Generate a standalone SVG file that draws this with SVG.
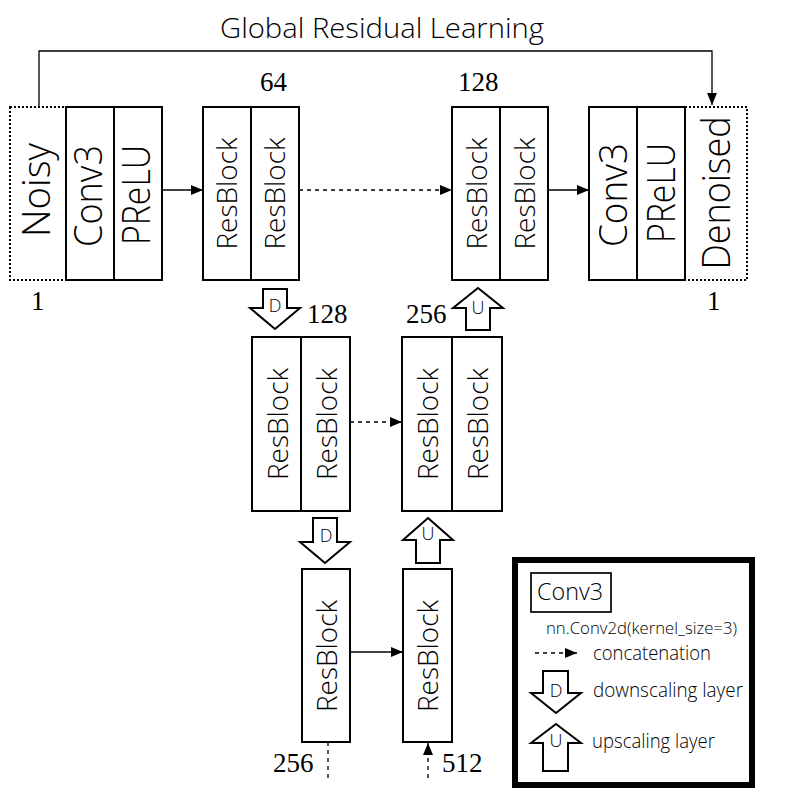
<svg xmlns="http://www.w3.org/2000/svg" width="801" height="797" viewBox="0 0 801 797">
<defs>
<style>
.box{fill:#fff;stroke:#000;stroke-width:2}
.dot{fill:#fff;stroke:#000;stroke-width:2;stroke-dasharray:2 2}
.vt{font-family:"Open Sans","Noto Sans","Liberation Sans",sans-serif;font-weight:350;font-size:38px;text-anchor:middle;fill:#000}
.rb{font-family:"Open Sans","Noto Sans","Liberation Sans",sans-serif;font-weight:350;font-size:28px;text-anchor:middle;fill:#000}
.num{font-family:"Liberation Serif","Times New Roman",serif;font-size:27px;fill:#000}
.ln{fill:none;stroke:#000;stroke-width:1.3}
.dash{fill:none;stroke:#000;stroke-width:1.3;stroke-dasharray:4 4}
.arr{fill:#fff;stroke:#000;stroke-width:2;stroke-linejoin:miter}
.lt{font-family:"Open Sans","Noto Sans","Liberation Sans",sans-serif;font-weight:350;font-size:18px;text-anchor:middle;fill:#000}
.lg{font-family:"Open Sans","Noto Sans","Liberation Sans",sans-serif;font-weight:350;font-size:20px;fill:#000}
.title{font-family:"Open Sans","Noto Sans","Liberation Sans",sans-serif;font-weight:350;font-size:28px;fill:#000}
</style>
<marker id="ah" markerUnits="userSpaceOnUse" markerWidth="12" markerHeight="10" refX="12" refY="5" orient="auto">
<path d="M0,0 L12,5 L0,10 z" fill="#000"/>
</marker>
</defs>
<rect x="0" y="0" width="801" height="797" fill="#fff"/>

<text class="title" x="220" y="38" textLength="324" lengthAdjust="spacingAndGlyphs">Global Residual Learning</text>

<g id="connectors">
<polyline class="ln" points="39,107 39,51 712,51 712,105" marker-end="url(#ah)"/>
<line class="ln" x1="162" y1="190" x2="203" y2="190" marker-end="url(#ah)"/>
<line class="dash" x1="299" y1="190" x2="452" y2="190" marker-end="url(#ah)"/>
<line class="ln" x1="548" y1="190" x2="589" y2="190" marker-end="url(#ah)"/>
<line class="dash" x1="350" y1="422" x2="402" y2="422" marker-end="url(#ah)"/>
<line class="ln" x1="350" y1="652" x2="403" y2="652" marker-end="url(#ah)"/>
<line class="dash" x1="328" y1="742" x2="328" y2="778"/>
<line class="dash" x1="428" y1="778" x2="428" y2="743" marker-end="url(#ah)"/>
</g>

<g id="noisy">
<rect class="dot" x="10" y="107" width="56" height="173"/>
<text class="vt" transform="translate(50,190) rotate(-90)" textLength="94" lengthAdjust="spacingAndGlyphs">Noisy</text>
</g>
<g id="conv3-in">
<rect class="box" x="66" y="107" width="48" height="173"/>
<text class="vt" transform="translate(102,196) rotate(-90)" textLength="102" lengthAdjust="spacingAndGlyphs">Conv3</text>
</g>
<g id="prelu-in">
<rect class="box" x="114" y="107" width="48" height="173"/>
<text class="vt" transform="translate(150,195) rotate(-90)" textLength="100" lengthAdjust="spacingAndGlyphs">PReLU</text>
</g>

<g id="enc1">
<rect class="box" x="203" y="107" width="48" height="173"/>
<rect class="box" x="251" y="107" width="48" height="173"/>
<text class="rb" transform="translate(237,193.5) rotate(-90)" textLength="112" lengthAdjust="spacingAndGlyphs">ResBlock</text>
<text class="rb" transform="translate(285,193.5) rotate(-90)" textLength="112" lengthAdjust="spacingAndGlyphs">ResBlock</text>
</g>

<g id="dec1">
<rect class="box" x="452" y="107" width="48" height="173"/>
<rect class="box" x="500" y="107" width="48" height="173"/>
<text class="rb" transform="translate(487,193.5) rotate(-90)" textLength="112" lengthAdjust="spacingAndGlyphs">ResBlock</text>
<text class="rb" transform="translate(535,193.5) rotate(-90)" textLength="112" lengthAdjust="spacingAndGlyphs">ResBlock</text>
</g>

<g id="denoised">
<rect class="dot" x="685" y="107" width="62" height="173"/>
<text class="vt" transform="translate(730,193) rotate(-90)" textLength="153" lengthAdjust="spacingAndGlyphs">Denoised</text>
</g>
<g id="conv3-out">
<rect class="box" x="589" y="107" width="48" height="173"/>
<text class="vt" transform="translate(627,195) rotate(-90)" textLength="104" lengthAdjust="spacingAndGlyphs">Conv3</text>
</g>
<g id="prelu-out">
<rect class="box" x="637" y="107" width="48" height="173"/>
<text class="vt" transform="translate(675,193) rotate(-90)" textLength="100" lengthAdjust="spacingAndGlyphs">PReLU</text>
</g>

<g id="enc2">
<rect class="box" x="252" y="337" width="49" height="174"/>
<rect class="box" x="301" y="337" width="49" height="174"/>
<text class="rb" transform="translate(288,424) rotate(-90)" textLength="112" lengthAdjust="spacingAndGlyphs">ResBlock</text>
<text class="rb" transform="translate(337,424) rotate(-90)" textLength="112" lengthAdjust="spacingAndGlyphs">ResBlock</text>
</g>

<g id="dec2">
<rect class="box" x="402" y="337" width="50" height="174"/>
<rect class="box" x="452" y="337" width="50" height="174"/>
<text class="rb" transform="translate(438,424) rotate(-90)" textLength="112" lengthAdjust="spacingAndGlyphs">ResBlock</text>
<text class="rb" transform="translate(488,424) rotate(-90)" textLength="112" lengthAdjust="spacingAndGlyphs">ResBlock</text>
</g>

<g id="enc3">
<rect class="box" x="302" y="569" width="48" height="173"/>
<text class="rb" transform="translate(337,656) rotate(-90)" textLength="112" lengthAdjust="spacingAndGlyphs">ResBlock</text>
</g>

<g id="dec3">
<rect class="box" x="403" y="569" width="49" height="173"/>
<text class="rb" transform="translate(438,656) rotate(-90)" textLength="112" lengthAdjust="spacingAndGlyphs">ResBlock</text>
</g>

<g id="down1">
<polygon class="arr" points="263,289 287,289 287,308 300,308 275,329 250,308 263,308"/>
<text class="lt" x="275" y="312">D</text>
</g>
<g id="down2">
<polygon class="arr" points="313,518 337,518 337,542 350,542 325,563 300,542 313,542"/>
<text class="lt" x="326" y="542">D</text>
</g>
<g id="up1">
<polygon class="arr" points="478,288 503,308 490,308 490,330 466,330 466,308 453,308"/>
<text class="lt" x="478" y="314">U</text>
</g>
<g id="up2">
<polygon class="arr" points="428,518 453,540 440,540 440,563 416,563 416,540 403,540"/>
<text class="lt" x="428" y="540">U</text>
</g>

<g id="numbers">
<text class="num" x="260" y="91">64</text>
<text class="num" x="458" y="91">128</text>
<text class="num" x="31" y="310">1</text>
<text class="num" x="707" y="310">1</text>
<text class="num" x="307" y="323">128</text>
<text class="num" x="406" y="323">256</text>
<text class="num" x="273" y="772">256</text>
<text class="num" x="442" y="772">512</text>
</g>

<g id="legend">
<rect x="515" y="560" width="237" height="225" fill="none" stroke="#000" stroke-width="6"/>
<rect x="531" y="573" width="80" height="39" fill="#fff" stroke="#000" stroke-width="1.7"/>
<text class="lg" style="font-size:24px" x="537" y="600" textLength="66" lengthAdjust="spacingAndGlyphs">Conv3</text>
<text class="lg" style="font-size:17px" x="546" y="634" textLength="191" lengthAdjust="spacingAndGlyphs">nn.Conv2d(kernel_size=3)</text>
<line class="dash" x1="535" y1="653" x2="577" y2="653" marker-end="url(#ah)"/>
<text class="lg" x="593" y="660" textLength="118" lengthAdjust="spacingAndGlyphs">concatenation</text>
<polygon class="arr" points="543,671 568,671 568,693 581,693 556,713 531,693 543,693"/>
<text class="lt" x="556" y="697">D</text>
<text class="lg" x="593" y="697" textLength="150" lengthAdjust="spacingAndGlyphs">downscaling layer</text>
<polygon class="arr" points="556,724 581,743 568,743 568,771 543,771 543,743 531,743"/>
<text class="lt" x="556" y="747">U</text>
<text class="lg" x="592" y="748" textLength="123" lengthAdjust="spacingAndGlyphs">upscaling layer</text>
</g>
</svg>
